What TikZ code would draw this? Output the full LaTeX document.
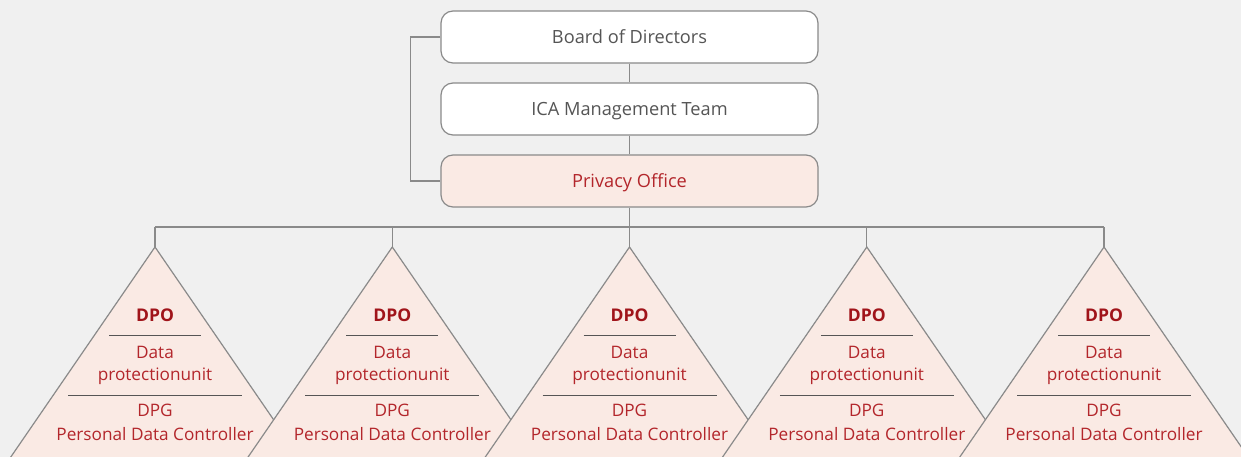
\documentclass[tikz,border=0pt]{standalone}
\usepackage{fontspec}
\setmainfont{Open Sans}
\definecolor{bg}{HTML}{F0F0F0}
\definecolor{edge}{HTML}{8A8A8A}
\definecolor{pinkfill}{HTML}{FAEAE4}
\definecolor{redtxt}{HTML}{B3262B}
\definecolor{dpocol}{HTML}{A0141A}
\definecolor{graytxt}{HTML}{555555}
\begin{document}
\begin{tikzpicture}[x=1pt,y=-1pt,
  box/.style={draw=edge, line width=1.2pt, rounded corners=12pt, minimum width=377pt, minimum height=52pt, inner sep=0pt, text height=16pt, text depth=2pt, font=\fontsize{18.2}{21}\selectfont, text=graytxt, fill=white},
  conn/.style={draw=edge, line width=1.3pt},
  tri/.style={draw=edge, line width=1.2pt, fill=pinkfill},
  rule/.style={draw=graytxt, line width=1pt},
  dpotxt/.style={font=\fontsize{17.5}{20}\selectfont\bfseries, text=dpocol, inner sep=0pt},
  ttxt/.style={font=\fontsize{17.2}{20}\selectfont, text=redtxt, inner sep=0pt}]
\useasboundingbox (0,0) rectangle (1241,457);
\fill[bg] (0,0) rectangle (1241,457);
\clip (0,0) rectangle (1241,457);
\node[box] (bod) at (629.5,37) {Board of Directors};
\node[box] (ica) at (629.5,109) {ICA Management Team};
\node[box, fill=pinkfill, text=redtxt] (po) at (629.5,181) {Privacy Office};
\draw[conn] (bod) -- (ica);
\draw[conn] (ica) -- (po);
\draw[conn] (bod.west) -- ++(-30,0) |- (po.west);
\foreach \i/\cx in {1/155,2/392.3,3/629.5,4/866.8,5/1104} {
  \coordinate (a\i) at (\cx,247);
  \coordinate (b\i) at (\cx,227);
  \filldraw[tri] (a\i) -- (\cx+160,480) -- (\cx-160,480) -- cycle;
  \node[dpotxt] (dpo\i) at (\cx,315) {DPO};
  \draw[rule] (\cx-46,335) -- (\cx+46,335);
  \node[ttxt] (dat\i) at (\cx,352) {Data};
  \node[ttxt] (pro\i) at (\cx,376) {protectionunit};
  \draw[rule] (\cx-87,395) -- (\cx+87,395);
  \node[ttxt] (dpg\i) at (\cx,410) {DPG};
  \node[ttxt] (pdc\i) at (\cx,434) {Personal Data Controller};
}
\draw[conn] (po.south) -- (b3);
\draw[conn] (b1) -- (b5);
\foreach \i in {1,...,5} { \draw[conn] (b\i) -- (a\i); }
\end{tikzpicture}
\end{document}
